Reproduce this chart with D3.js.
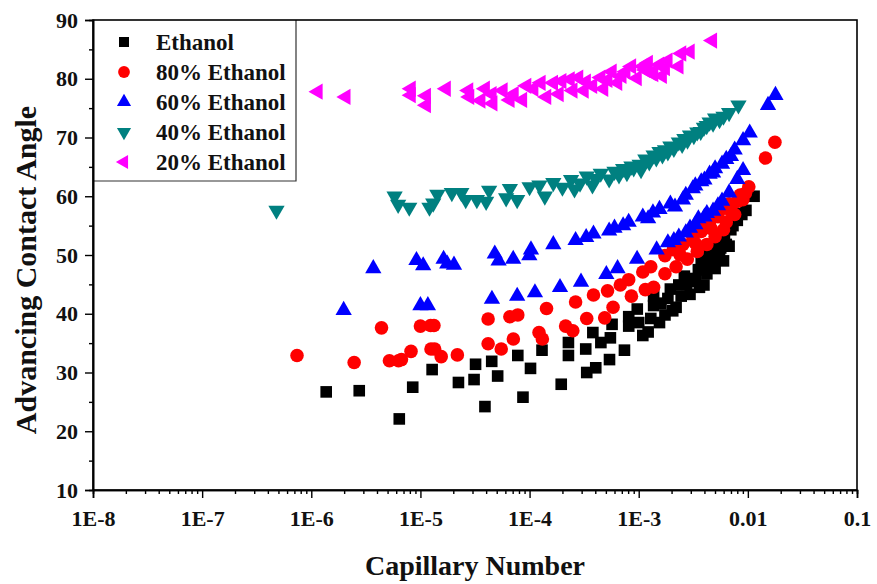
<!DOCTYPE html>
<html><head><meta charset="utf-8">
<script src="https://cdn.jsdelivr.net/npm/d3@7"></script>
<style>
html,body{margin:0;padding:0;background:#fff;}
svg{display:block;}
text{font-family:"Liberation Serif","Times New Roman",serif;font-weight:bold;}
</style></head>
<body>
<svg id="chart" width="877" height="584"></svg>
<script>
// ---------- DATA ----------
const seriesNames = ["Ethanol", "80% Ethanol", "60% Ethanol", "40% Ethanol", "20% Ethanol"];
const seriesColors = ["#000000", "#ff0000", "#0000ff", "#008080", "#ff00ff"];

const ethanolCn = [1.37e-6,2.75e-6,6.4e-6,8.5e-6,1.28e-5,2.23e-5,3.1e-5,3.2e-5,3.9e-5,4.5e-5,5.1e-5,7.8e-5,8.7e-5,1.02e-4,1.3e-4,1.95e-4,2.27e-4,2.27e-4,3.27e-4,3.34e-4,3.8e-4,4.04e-4,4.5e-4,5.4e-4,5.5e-4,5.7e-4,7.4e-4,8.1e-4,8.1e-4,9.7e-4,1.09e-3,1.22e-3,1.29e-3,1.37e-3,1.37e-3,1.55e-3,1.74e-3,1.85e-3,1.95e-3,2.2e-3,2.33e-3,2.62e-3,2.95e-3,3.13e-3,3.52e-3,3.74e-3,3.96e-3,4.21e-3,4.46e-3,4.73e-3,5.01e-3,5.32e-3,5.64e-3,5.98e-3,6.34e-3,6.73e-3,6.98e-3,8.0e-3,8.8e-3,9.6e-3,1.14e-2,
  2.05e-3,2.45e-3,2.75e-3,3.3e-3,3.6e-3,4.0e-3,4.4e-3,4.9e-3,5.5e-3,6.1e-3,7.3e-3,8.4e-3,1.0e-3,1.6e-3];
const ethanolAngle = [26.7,26.9,22.1,27.5,30.5,28.3,28.8,31.4,24.2,31.9,29.4,32.9,25.8,30.7,33.8,28.0,32.9,35.1,34.0,30.0,36.8,30.8,35.1,32.2,35.9,38.2,33.8,37.9,39.5,40.8,36.3,36.9,39.2,41.4,43.0,38.5,39.8,42.6,44.2,41.1,44.9,46.4,43.3,45.5,47.5,49.0,44.9,46.8,48.5,49.9,47.7,49.3,51.2,49.0,51.8,51.5,54.3,55.9,56.9,57.6,60.0,
  40.5,43.0,45.0,46.0,44.5,47.5,50.5,51.5,50.0,53.0,55.0,57.0,38.5,41.8];

const eth80Cn = [7.4e-7,2.47e-6,4.4e-6,5.2e-6,6.3e-6,6.7e-6,8.2e-6,1.0e-5,1.24e-5,1.33e-5,1.25e-5,1.35e-5,1.55e-5,2.18e-5,4.17e-5,4.17e-5,5.5e-5,6.6e-5,7.8e-5,7.1e-5,1.22e-4,1.31e-4,1.43e-4,2.14e-4,2.49e-4,2.64e-4,3.34e-4,3.85e-4,4.88e-4,5.18e-4,5.82e-4,6.78e-4,8.09e-4,8.57e-4,1.09e-3,1.15e-3,1.29e-3,1.37e-3,1.74e-3,1.74e-3,2.07e-3,2.2e-3,2.54e-3,2.79e-3,3.13e-3,3.44e-3,3.74e-3,4.21e-3,4.46e-3,5.01e-3,5.32e-3,5.64e-3,5.98e-3,6.34e-3,6.73e-3,7.57e-3,8.0e-3,9.0e-3,1.02e-2,1.45e-2,1.77e-2,
  3.3e-3,3.9e-3,4.6e-3,5.2e-3,6.1e-3,7.0e-3,8.5e-3,9.5e-3,2.4e-3];
const eth80Angle = [32.9,31.7,37.6,32.0,32.0,32.2,33.6,37.9,38.0,38.0,34.0,34.0,32.7,33.0,39.1,34.9,34.0,39.5,39.8,35.7,36.8,35.7,40.9,37.9,37.1,42.0,39.2,43.2,39.3,43.9,41.1,44.9,45.8,43.0,47.1,44.1,48.0,44.5,49.9,46.8,50.9,48.0,51.8,49.3,53.1,50.6,54.0,51.8,55.6,53.1,56.5,57.8,54.3,55.6,58.7,56.9,59.1,59.4,61.6,66.5,69.2,
  52.0,55.0,54.5,57.5,58.0,57.5,60.2,60.5,50.0];

const eth60Cn = [1.98e-6,3.7e-6,9.2e-6,1.06e-5,1.0e-5,1.17e-5,1.63e-5,1.76e-5,2.03e-5,4.52e-5,4.8e-5,5.2e-5,7.08e-5,7.7e-5,9.95e-5,1.03e-4,1.12e-4,1.65e-4,1.9e-4,2.64e-4,2.96e-4,3.85e-4,5.05e-4,5.36e-4,6.4e-4,7.2e-4,8.09e-4,9.66e-4,1.09e-3,1.22e-3,1.46e-3,1.55e-3,1.85e-3,1.95e-3,2.33e-3,2.54e-3,2.95e-3,3.13e-3,3.52e-3,3.74e-3,4.21e-3,4.46e-3,5.01e-3,5.32e-3,6.34e-3,6.73e-3,7.57e-3,8.0e-3,9.04e-3,9.04e-3,1.04e-2,1.53e-2,1.79e-2,
  3.3e-4,6.0e-4,1.35e-3,2.15e-3,2.7e-3,3.3e-3,4.0e-3,4.8e-3,5.8e-3,7.0e-3,2.1e-3,2.7e-3,3.3e-3,4.0e-3,4.8e-3,5.8e-3];
const eth60Angle = [40.6,47.7,49.1,48.2,41.4,41.4,49.3,48.5,48.3,42.5,50.2,49.0,49.3,43.0,49.9,50.9,43.6,51.8,44.5,52.5,45.4,53.6,46.7,54.1,47.7,55.0,55.6,49.3,56.5,56.2,50.9,57.8,52.1,58.7,53.1,59.4,54.6,61.3,56.2,62.5,57.1,63.8,64.7,58.4,66.3,60.6,67.9,62.9,69.5,64.4,70.8,75.5,77.2,
  53.0,54.6,57.2,58.2,60.2,61.8,62.8,64.0,65.5,66.8,52.5,53.8,55.2,56.5,57.5,59.2];

const eth40Cn = [4.8e-7,5.8e-6,6.25e-6,7.9e-6,1.21e-5,1.31e-5,1.43e-5,1.94e-5,2.37e-5,2.6e-5,3.29e-5,4.0e-5,4.26e-5,6.1e-5,6.6e-5,7.7e-5,1.0e-4,1.23e-4,1.38e-4,1.65e-4,2.4e-4,2.58e-4,3.34e-4,3.77e-4,4.49e-4,5.36e-4,6.0e-4,7.2e-4,8.57e-4,1.02e-3,1.15e-3,1.37e-3,1.55e-3,1.74e-3,1.95e-3,2.33e-3,2.62e-3,2.95e-3,3.44e-3,3.96e-3,4.46e-3,5.01e-3,5.98e-3,6.73e-3,8.2e-3,
  2.0e-4,2.9e-4,4.0e-4,6.6e-4,7.8e-4,9.0e-4,1.05e-3,1.25e-3,1.45e-3,1.65e-3,1.85e-3,2.1e-3,2.5e-3,2.8e-3,3.2e-3,3.7e-3,4.2e-3,4.8e-3,5.5e-3];
const eth40Angle = [57.6,60.0,58.6,58.1,58.1,58.8,60.3,60.6,60.6,59.4,59.4,59.1,61.0,59.7,61.3,59.4,61.6,61.9,60.0,62.3,62.8,61.2,63.4,61.9,63.9,62.9,64.2,64.7,65.1,65.4,66.3,67.0,67.6,67.9,68.5,69.2,69.8,70.4,70.9,71.7,72.6,73.3,73.6,74.2,75.5,
  61.5,62.2,63.0,63.6,64.0,64.8,64.5,65.8,66.5,67.0,67.5,68.1,68.8,69.5,70.3,71.0,72.0,72.4,73.0];

const eth20Cn = [1.15e-6,2.07e-6,8.2e-6,8.2e-6,1.13e-5,1.13e-5,1.72e-5,2.76e-5,2.82e-5,3.57e-5,3.92e-5,4.52e-5,4.6e-5,5.7e-5,6.6e-5,7.2e-5,8.6e-5,9.4e-5,1.09e-4,1.27e-4,1.43e-4,1.65e-4,1.86e-4,1.97e-4,2.35e-4,2.49e-4,2.81e-4,3.15e-4,3.77e-4,4.49e-4,4.76e-4,5.69e-4,6.4e-4,7.6e-4,8.57e-4,9.66e-4,1.09e-3,1.22e-3,1.37e-3,1.55e-3,1.64e-3,1.85e-3,2.33e-3,2.47e-3,2.95e-3,4.73e-3,
  3.3e-4,5.2e-4,7.0e-4,1.15e-3,1.3e-3,1.75e-3];
const eth20Angle = [77.8,76.9,78.3,77.2,77.1,75.5,78.3,78.0,76.9,76.3,78.3,77.4,75.8,78.0,76.4,77.4,76.4,78.8,78.3,79.3,76.9,79.3,77.4,79.6,79.9,78.0,80.2,78.0,78.8,80.2,78.3,81.2,79.3,81.2,82.1,80.1,82.1,82.7,80.8,82.4,80.5,83.1,82.1,84.3,84.6,86.5,
  79.5,79.8,80.5,81.5,81.0,81.8];

const xTickValues = [1e-8,1e-7,1e-6,1e-5,1e-4,1e-3,1e-2,1e-1];
const xTickLabels = ["1E-8","1E-7","1E-6","1E-5","1E-4","1E-3","0.01","0.1"];
const yTickValues = [10,20,30,40,50,60,70,80,90];
const xTitle = "Capillary Number";
const yTitle = "Advancing Contact Angle";

// ---------- LAYOUT ----------
const svg = d3.select("#chart");
const L = 93, R = 857, T = 20, B = 490;
const x = d3.scaleLog().domain([1e-8, 1e-1]).range([L, R]);
const y = d3.scaleLinear().domain([10, 90]).range([B, T]);

const series = [
  {cn: ethanolCn, a: ethanolAngle, sym: d3.symbolSquare, size: 135, rot: 0},
  {cn: eth80Cn, a: eth80Angle, sym: d3.symbolCircle, size: 145, rot: 0},
  {cn: eth60Cn, a: eth60Angle, sym: d3.symbolTriangle, size: 115, rot: 0},
  {cn: eth40Cn, a: eth40Angle, sym: d3.symbolTriangle, size: 115, rot: 180},
  {cn: eth20Cn, a: eth20Angle, sym: d3.symbolTriangle, size: 115, rot: -90}
].map((s, i) => Object.assign(s, {name: seriesNames[i], color: seriesColors[i]}));

// points
const gPts = svg.append("g");
series.forEach(s => {
  const path = d3.symbol().type(s.sym).size(s.size)();
  gPts.selectAll(null).data(s.cn.map((c, i) => [c, s.a[i]])).enter()
    .append("path")
    .attr("d", path)
    .attr("fill", s.color)
    .attr("transform", d => `translate(${x(d[0])},${y(d[1])}) rotate(${s.rot})`);
});

// legend
const lg = svg.append("g");
lg.append("path").attr("d", `M${L},${181}H${296}V${T}`).attr("fill", "none").attr("stroke", "#333").attr("stroke-width", 1.2);
series.forEach((s, i) => {
  const cy = 42 + i * 30;
  lg.append("path").attr("d", d3.symbol().type(s.sym).size(s.size * 0.75)())
    .attr("fill", s.color).attr("transform", `translate(124,${cy}) rotate(${s.rot})`);
  lg.append("text").attr("x", 156).attr("y", cy).attr("dy", "0.35em")
    .attr("font-size", 23).attr("fill", "#111").text(s.name);
});

// frame
svg.append("rect").attr("x", L).attr("y", T).attr("width", R - L).attr("height", B - T)
  .attr("fill", "none").attr("stroke", "#000").attr("stroke-width", 1.6);

// axes
const xAxis = d3.axisBottom(x).tickValues(xTickValues).tickSize(8).tickPadding(12)
  .tickFormat((d, i) => xTickLabels[i]);
svg.append("g").attr("transform", `translate(0,${B})`).call(xAxis);
const minorX = [];
for (let e = -8; e < -1; e++) for (let m = 2; m <= 9; m++) minorX.push(m * Math.pow(10, e));
svg.append("g").attr("transform", `translate(0,${B})`)
  .call(d3.axisBottom(x).tickValues(minorX).tickSize(4).tickFormat(""));

const yAxis = d3.axisLeft(y).tickValues(yTickValues).tickSize(8).tickPadding(7);
svg.append("g").attr("transform", `translate(${L},0)`).call(yAxis);
svg.append("g").attr("transform", `translate(${L},0)`)
  .call(d3.axisLeft(y).tickValues(d3.range(15, 90, 10)).tickSize(4).tickFormat(""));

svg.selectAll(".domain").attr("stroke", "#000").attr("stroke-width", 1.6);
svg.selectAll(".tick line").attr("stroke", "#000").attr("stroke-width", 1.4);
svg.selectAll(".tick text").attr("font-size", 22).attr("fill", "#111")
  .attr("font-family", "'Liberation Serif', serif").attr("font-weight", "bold");

// titles
svg.append("text").attr("x", (L + R) / 2).attr("y", 575).attr("text-anchor", "middle")
  .attr("font-size", 28).attr("fill", "#111").text(xTitle);
svg.append("text").attr("transform", `translate(36,${270}) rotate(-90)`)
  .attr("text-anchor", "middle").attr("font-size", 30).attr("fill", "#111").text(yTitle);
</script>
</body></html>
